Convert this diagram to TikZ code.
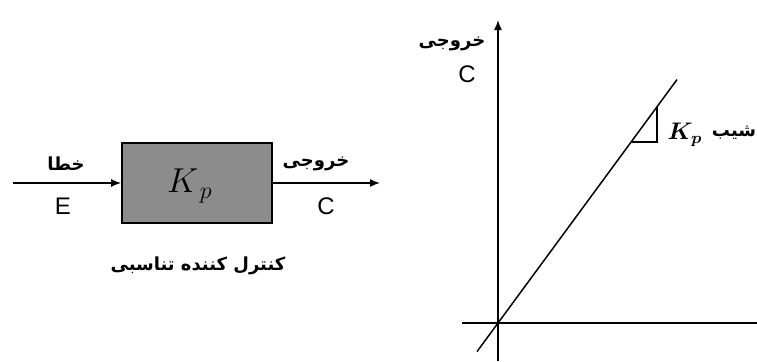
\documentclass[tikz,border=0pt]{standalone}
\usepackage{fontspec}
\setsansfont{Liberation Sans}
\newfontfamily\arabicfont[Script=Arabic]{DejaVu Sans}
\TeXXeTstate=1
\usetikzlibrary{arrows.meta,positioning}
\definecolor{ctrlGray}{HTML}{8C8C8C}

\begin{document}
\begin{tikzpicture}[x=0.5pt,y=-0.5pt,
    line width=0.75pt,
    sig/.style={-{Latex[length=5pt,width=4pt]}},
    ctrlbox/.style={draw=black,line width=0.9pt,fill=ctrlGray,
                    minimum width=75pt,minimum height=40pt,inner sep=0pt},
    fa/.style={font=\arabicfont\small\bfseries,inner sep=1pt},
    lat/.style={font=\sffamily\large,inner sep=1pt}]
  \useasboundingbox (0,0) rectangle (757,361);

  % block diagram
  \coordinate (in) at (13,183);
  \coordinate (out) at (380,183);
  \node[ctrlbox] (ctrl) at (197,183) {};
  \node at (190,186) {\LARGE$K_{\,p}$};
  \draw[sig] (in) -- (ctrl.west);
  \draw[sig] (ctrl.east) -- (out);

  \node[fa] (errTxt) at (66,164) {\beginR خطا\endR};
  \node[lat] (E) at (63,206) {E};
  \node[fa] (outTxt) at (316,164) {\beginR خروجی\endR};
  \node[lat] (C) at (326,206) {C};
  \node[fa] (title) at (198,266) {\beginR کنترل کننده تناسبی\endR};

  % characteristic
  \coordinate (o) at (498,323);
  \coordinate (ytop) at (498,20);
  \coordinate (ybot) at (498,361);
  \coordinate (xl) at (462,323);
  \coordinate (xr) at (757,323);
  \coordinate (l0) at (477,351.6);
  \coordinate (l1) at (677,79.6);
  \draw[sig] (ybot) -- (ytop);
  \draw (xl) -- (xr);
  \draw (l0) -- (l1);

  \coordinate (t1) at (631,142);
  \coordinate (t2) at (657,142);
  \coordinate (t3) at (657,107);
  \draw (t1) -- (t2) -- (t3);

  \node[fa] (yTxt) at (452,44) {\beginR خروجی\endR};
  \node[lat] (yC) at (467,74) {C};
  \node[font=\large\boldmath] (slopeK) at (685,135) {$K_p$};
  \node[fa] (slopeTxt) at (734,133) {\beginR شیب\endR};
\end{tikzpicture}
\end{document}
